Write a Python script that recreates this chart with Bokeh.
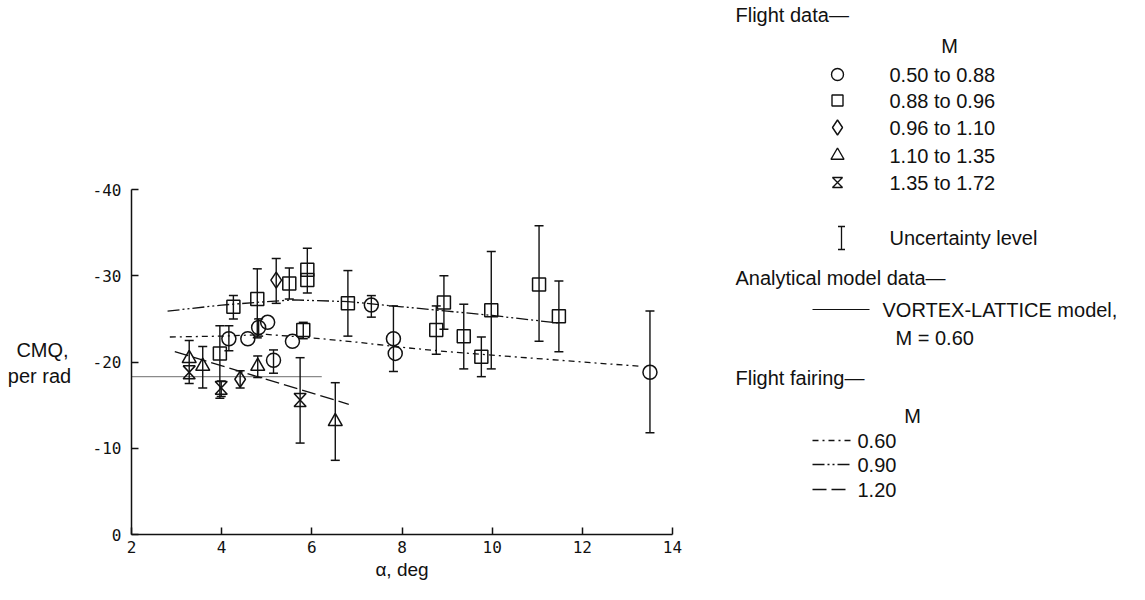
from bokeh.plotting import figure
from bokeh.layouts import row
from bokeh.models import Range1d, FixedTicker
from bokeh.core.properties import value
from bokeh.embed import file_html
from bokeh.resources import INLINE

# ---------------- data ----------------
circ_alpha = [4.16, 4.58, 4.82, 5.02, 5.15, 5.57, 7.32, 7.81, 7.85, 13.50]
circ_cmq = [-22.7, -22.7, -24.0, -24.6, -20.2, -22.4, -26.6, -22.7, -21.0, -18.8]

sq_alpha = [4.26, 4.79, 5.50, 5.90, 5.90, 6.80, 5.81, 3.96, 8.93, 8.76, 9.37, 9.98, 9.76, 11.04, 11.48]
sq_cmq = [-26.4, -27.3, -29.1, -30.7, -29.5, -26.8, -23.7, -21.0, -26.9, -23.7, -23.0, -26.0, -20.6, -29.0, -25.3]

dia_alpha = [5.21, 4.41]
dia_cmq = [-29.5, -18.0]

tri_alpha = [3.28, 3.58, 4.80, 6.52]
tri_cmq = [-20.4, -19.5, -19.5, -13.1]

hg_alpha = [3.28, 3.99, 5.74]
hg_cmq = [-18.8, -17.0, -15.6]

# uncertainty levels (vertical bars)
err_alpha = [4.16, 4.82, 5.15, 7.32, 7.81, 13.50,
             4.26, 4.79, 5.50, 5.90, 6.80, 5.81, 3.96, 8.93, 8.76, 9.37, 9.98, 9.76, 11.04, 11.48,
             5.21, 4.41,
             3.58, 4.80, 6.52,
             3.28, 3.99, 5.74]
err_low = [-24.2, -25.0, -21.4, -27.7, -26.5, -25.9,
           -27.7, -30.8, -30.9, -33.2, -30.6, -24.6, -24.2, -30.0, -26.5, -26.7, -32.8, -22.9, -35.8, -29.4,
           -32.0, -19.0,
           -21.8, -20.7, -17.6,
           -22.5, -17.8, -20.5]
err_high = [-21.3, -23.0, -18.7, -25.2, -18.9, -11.8,
            -25.0, -22.8, -27.3, -28.0, -23.0, -22.7, -15.8, -23.8, -20.9, -19.2, -19.2, -18.3, -22.4, -21.2,
            -26.8, -17.0,
            -17.0, -18.2, -8.6,
            -17.5, -16.0, -10.6]

# analytical model (vortex-lattice, M = 0.60)
vl_alpha = [2.0, 6.22]
vl_cmq = [-18.3, -18.3]

# flight fairings
f60_alpha = [2.85, 4.0, 5.0, 6.0, 7.0, 8.0, 9.0, 10.0, 11.0, 12.0, 13.3]
f60_cmq = [-22.9, -23.0, -23.2, -22.8, -22.3, -21.7, -21.2, -20.8, -20.4, -20.0, -19.5]
f90_alpha = [2.8, 4.0, 5.0, 5.6, 6.8, 8.0, 9.0, 10.0, 11.5]
f90_cmq = [-25.9, -26.6, -27.0, -27.2, -27.0, -26.4, -25.9, -25.4, -24.5]
f120_alpha = [2.96, 6.82]
f120_cmq = [-21.2, -15.1]

x_ticks = [2, 4, 6, 8, 10, 12, 14]
y_ticks = [0, -10, -20, -30, -40]
y_tick_labels = ["0", "-10", "-20", "-30", "-40"]

legend_ranges = ["0.50 to 0.88", "0.88 to 0.96", "0.96 to 1.10", "1.10 to 1.35", "1.35 to 1.72"]
fairing_labels = ["0.60", "0.90", "1.20"]

INK = "#111111"
TXT = value("Liberation Sans")
MONO = "DejaVu Sans Mono"
DASH60 = "6 4 2 4"
DASH90 = "12 3 2 3 2 3"
DASH120 = "14 5"

# ---------------- y label panel ----------------
yl = figure(width=80, height=584, x_range=Range1d(8, 88), y_range=Range1d(592, 8),
            output_backend="svg", toolbar_location=None, min_border=0,
            x_axis_location=None, y_axis_location=None, frame_align=False)
yl.grid.visible = False
yl.outline_line_color = None
yl.text(x=[50, 47], y=[357, 383], text=["CMQ,", "per rad"], text_font=TXT,
        text_font_size="20px", text_align="center", text_baseline="middle", text_color=INK)

# ---------------- main plot ----------------
p = figure(width=632, height=584, x_range=Range1d(2, 14), y_range=Range1d(0, -40),
           output_backend="svg", toolbar_location=None, frame_align=False,
           min_border_left=51, min_border_right=40, min_border_top=189, min_border_bottom=50)
p.grid.visible = False
p.outline_line_color = None

p.xaxis.ticker = FixedTicker(ticks=x_ticks)
p.yaxis.ticker = FixedTicker(ticks=y_ticks)
p.yaxis.major_label_overrides = {t: s for t, s in zip(y_ticks, y_tick_labels)}
for ax in (p.xaxis, p.yaxis):
    ax.axis_line_color = INK
    ax.axis_line_width = 1.5
    ax.major_tick_line_color = INK
    ax.major_tick_line_width = 1.5
    ax.major_tick_in = 7
    ax.major_tick_out = 0
    ax.minor_tick_line_color = None
    ax.major_label_text_font = MONO
    ax.major_label_text_font_size = "16px"
    ax.major_label_text_color = INK
p.xaxis.major_label_standoff = 6
p.yaxis.major_label_standoff = 10
p.xaxis.axis_label = "α, deg"
p.xaxis.axis_label_text_font = "Liberation Sans"
p.xaxis.axis_label_text_font_size = "19px"
p.xaxis.axis_label_text_font_style = "normal"
p.xaxis.axis_label_text_color = INK
p.xaxis.axis_label_standoff = 3

# analytical model line
p.line(vl_alpha, vl_cmq, line_color="#8a8a8a", line_width=1.2)
# fairings
p.line(f60_alpha, f60_cmq, line_color=INK, line_width=1.3, line_dash=DASH60)
p.line(f90_alpha, f90_cmq, line_color=INK, line_width=1.3, line_dash=DASH90)
p.line(f120_alpha, f120_cmq, line_color=INK, line_width=1.3, line_dash=DASH120)

# uncertainty bars
p.segment(x0=err_alpha, y0=err_low, x1=err_alpha, y1=err_high, line_color=INK, line_width=1.4)
p.scatter(err_alpha, err_low, marker="dash", size=9, line_color=INK, line_width=1.5)
p.scatter(err_alpha, err_high, marker="dash", size=9, line_color=INK, line_width=1.5)

# symbols
p.scatter(circ_alpha, circ_cmq, marker="circle", size=14, fill_color=None, line_color=INK, line_width=1.5)
p.scatter(sq_alpha, sq_cmq, marker="square", size=13, fill_color=None, line_color=INK, line_width=1.5)
p.scatter(dia_alpha, dia_cmq, marker="diamond", size=16, fill_color=None, line_color=INK, line_width=1.5)
p.scatter(tri_alpha, tri_cmq, marker="triangle", size=14, fill_color=None, line_color=INK, line_width=1.5)

# hourglass symbols built around each data point (half-size in data units of the scales)
hw = 6.0 / 45.0
hh = 6.5 / 8.65
hg_xs = [[a - hw, a + hw, a - hw, a + hw] for a in hg_alpha]
hg_ys = [[c - hh, c - hh, c + hh, c + hh] for c in hg_cmq]
p.patches(hg_xs, hg_ys, fill_color=None, line_color=INK, line_width=1.5)

# ---------------- legend panel ----------------
lg = figure(width=417, height=584, x_range=Range1d(720, 1137), y_range=Range1d(592, 8),
            output_backend="svg", toolbar_location=None, min_border=0,
            x_axis_location=None, y_axis_location=None, frame_align=False)
lg.grid.visible = False
lg.outline_line_color = None

def txt(x, y, s, align="left"):
    lg.text(x=[x], y=[y], text=[s], text_font=TXT, text_font_size="20px",
            text_align=align, text_baseline="middle", text_color=INK)

txt(743, 22, "Flight data\u2014")
txt(957, 53, "M", "center")
rows_y = [82, 108, 135, 163, 190]
for yy, lab in zip(rows_y, legend_ranges):
    txt(897, yy, lab)
lg.scatter([845], [rows_y[0]], marker="circle", size=12, fill_color=None, line_color=INK, line_width=1.4)
lg.scatter([845], [rows_y[1]], marker="square", size=11, fill_color=None, line_color=INK, line_width=1.4)
lg.scatter([845], [rows_y[2]], marker="diamond", size=15, fill_color=None, line_color=INK, line_width=1.4)
lg.scatter([845], [rows_y[3]], marker="triangle", size=13, fill_color=None, line_color=INK, line_width=1.4)
lg.patches([[840, 850, 840, 850]], [[rows_y[4] - 5, rows_y[4] - 5, rows_y[4] + 5, rows_y[4] + 5]],
           fill_color=None, line_color=INK, line_width=1.4)
lg.segment(x0=[849], y0=[234], x1=[849], y1=[257], line_color=INK, line_width=1.3)
lg.scatter([849, 849], [234, 257], marker="dash", size=7, line_color=INK, line_width=1.3)
txt(897, 245, "Uncertainty level")

txt(743, 285, "Analytical model data\u2014")
lg.segment(x0=[820], y0=[317], x1=[877], y1=[317], line_color=INK, line_width=1.2)
txt(890, 317, "VORTEX-LATTICE model,")
txt(903, 345, "M = 0.60")

txt(743, 385, "Flight fairing\u2014")
txt(920, 423, "M", "center")
for yy, lab, dsh in zip([448, 472, 497], fairing_labels, [DASH60, DASH90, DASH120]):
    lg.line([820, 858], [yy, yy], line_color=INK, line_width=1.3, line_dash=dsh)
    txt(865, yy, lab)

layout = row(yl, p, lg)
open("out.html", "w").write(file_html(layout, INLINE))
